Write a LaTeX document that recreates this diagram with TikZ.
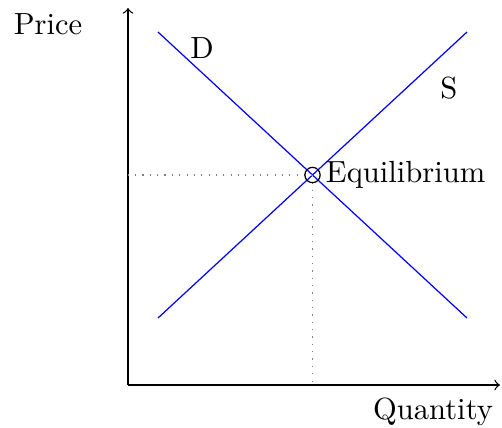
\documentclass[tikz,border=0pt]{standalone}
\usepackage{amsmath}
\usepackage{tikz}
\usetikzlibrary{positioning}

\begin{document}
\begin{tikzpicture}[x=0.327pt, y=0.327pt, >=to]
                \useasboundingbox (-128,-42) rectangle (374,385);
                \coordinate (O) at (0,0);
                \coordinate (X) at (372,0);
                \coordinate (Y) at (0,377);
                
                \draw[->] (O) -- (X);
                \draw[->] (O) -- (Y);
                \node at (-80,361) {Price};
                \node at (305,-27) {Quantity};
                
                \coordinate (D1) at (30,353);
                \coordinate (D2) at (339,67);
                \coordinate (S1) at (30,67);
                \coordinate (S2) at (339,353);
                \draw[blue] (D1) -- (D2);
                \draw[blue] (S1) -- (S2);
                \node at (74,337) {D};
                \node at (321,297) {S};
                
                \coordinate (E) at (184.5,210);
                \draw[dotted, gray] (E) -- (E -| O);
                \draw[dotted, gray] (E) -- (E |- O);
                \draw (E) circle (2.5pt);
                \node[right=3.2pt of E, inner sep=1pt] {Equilibrium};
            \end{tikzpicture}
\end{document}
